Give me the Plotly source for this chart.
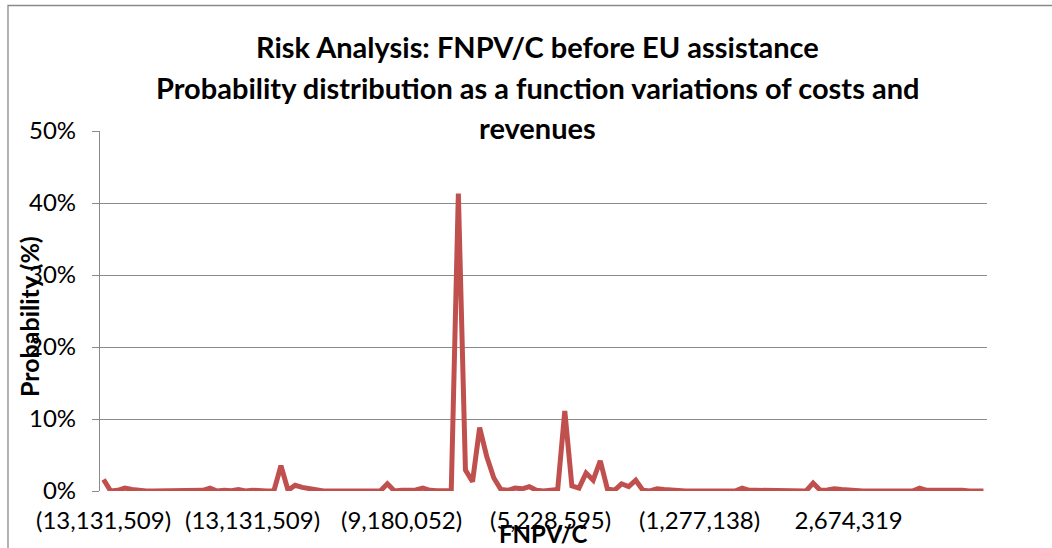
import plotly.graph_objects as go

# Probability (%) of each FNPV/C class, in class order
probability_pct = [
    1.6, 0.0, 0.1, 0.4, 0.2, 0.05, 0.0, 0.0, 0.0, 0.0,
    0.0, 0.0, 0.0, 0.0, 0.1, 0.4, 0.0, 0.1, 0.05, 0.2,
    0.0, 0.1, 0.0, 0.0, 0.0, 3.5, 0.1, 0.8, 0.5, 0.3,
    0.1, 0.0, 0.0, 0.0, 0.0, 0.0, 0.0, 0.0, 0.0, 0.0,
    1.0, 0.0, 0.1, 0.15, 0.15, 0.4, 0.1, 0.05, 0.05, 0.05,
    41.3, 2.9, 1.3, 8.8, 4.8, 1.8, 0.2, 0.1, 0.4, 0.3,
    0.6, 0.1, 0.0, 0.1, 0.2, 11.1, 0.7, 0.4, 2.5, 1.5,
    4.2, 0.3, 0.1, 1.0, 0.6, 1.5, 0.1, 0.0, 0.3, 0.2,
    0.1, 0.0, 0.0, 0.0, 0.0, 0.0, 0.0, 0.0, 0.0, 0.0,
    0.4, 0.1, 0.1, 0.1, 0.15, 0.0, 0.0, 0.0, 0.0, 0.0,
    1.1, 0.1, 0.15, 0.3, 0.2, 0.1, 0.0, 0.0, 0.0, 0.0,
    0.0, 0.0, 0.0, 0.0, 0.0, 0.4, 0.1, 0.1, 0.1, 0.1,
    0.2, 0.1, 0.0, 0.0, 0.0,
]
class_index = list(range(len(probability_pct)))

# FNPV/C class labels shown on the category axis
label_positions = [0, 21, 42, 63, 84, 105]
label_texts = ["(13,131,509)", "(13,131,509)", "(9,180,052)",
               "(5,228,595)", "(1,277,138)", "2,674,319"]

y_ticks = [0, 0.1, 0.2, 0.3, 0.4, 0.5]

FONT = "Lato, Open Sans, sans-serif"
GRID = "#8a8a8a"
W, H = 1052, 548
M = dict(l=100, r=65, t=131, b=57)
PW = W - M["l"] - M["r"]
PH = H - M["t"] - M["b"]


def px(x):
    return (x - M["l"]) / PW


def py(y):
    return (H - M["b"] - y) / PH


fig = go.Figure()
fig.add_trace(go.Scatter(
    x=class_index,
    y=[v / 100 for v in probability_pct],
    mode="lines",
    line=dict(color="#c0504d", width=5),
    cliponaxis=False,
    hoverinfo="x+y",
))

annotations = [
    dict(text="<b>Risk Analysis: FNPV/C before EU assistance</b>", x=px(537), y=py(47)),
    dict(text="<b>Probability distribution as a function variations of costs and</b>", x=px(537), y=py(87)),
    dict(text="<b>revenues</b>", x=px(537), y=py(127)),
]
for a in annotations:
    a.update(xref="paper", yref="paper", xanchor="center", yanchor="middle",
             showarrow=False, font=dict(family=FONT, size=29, color="black"))

annotations.append(dict(text="<b>Probability (%)</b>", x=px(29), y=py(317),
                        xref="paper", yref="paper", textangle=-90,
                        xanchor="center", yanchor="middle", showarrow=False,
                        font=dict(family=FONT, size=25, color="black")))
annotations.append(dict(text="<b>FNPV/C</b>", x=px(543), y=py(533),
                        xref="paper", yref="paper",
                        xanchor="center", yanchor="middle", showarrow=False,
                        font=dict(family=FONT, size=24, color="black")))

fig.update_layout(
    width=W, height=H,
    margin=M,
    paper_bgcolor="white",
    plot_bgcolor="white",
    showlegend=False,
    annotations=annotations,
    font=dict(family=FONT, size=24, color="black"),
    xaxis=dict(
        range=[-0.5, len(probability_pct) - 0.5],
        tickmode="array", tickvals=label_positions, ticktext=label_texts,
        showgrid=False, zeroline=False, showline=False,
        ticks="", ticklabelstandoff=13,
        tickfont=dict(family=FONT, size=24, color="black"),
    ),
    yaxis=dict(
        range=[0, 0.5],
        tickmode="array", tickvals=y_ticks, tickformat=".0%",
        showgrid=True, gridcolor=GRID, gridwidth=1.3,
        zeroline=False,
        showline=True, linecolor=GRID, linewidth=1.3,
        ticks="outside", ticklen=7, tickcolor=GRID, tickwidth=1.3,
        ticklabelstandoff=11,
        tickfont=dict(family=FONT, size=24, color="black"),
    ),
    shapes=[dict(type="rect", xref="paper", yref="paper",
                 x0=px(8), x1=px(1070), y0=py(5.5), y1=py(570),
                 line=dict(color="#8a8a8a", width=1.3), layer="below")],
)

fig.write_html("out.html")
